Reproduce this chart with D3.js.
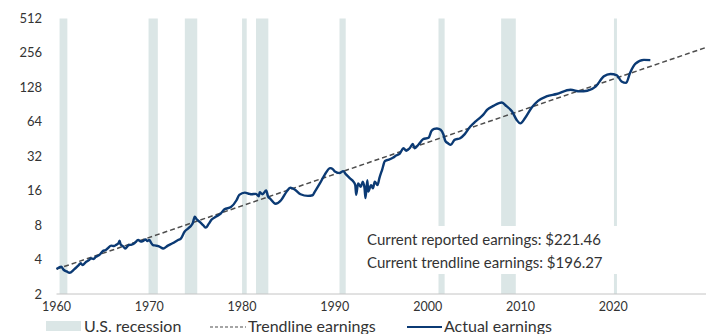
<!DOCTYPE html>
<html>
<head>
<meta charset="utf-8">
<script src="https://cdn.jsdelivr.net/npm/d3@7"></script>
<style>
  html, body { margin: 0; padding: 0; background: #ffffff; }
  svg { display: block; }
  text { font-family: Lato, "Open Sans", "Noto Sans", sans-serif; fill: #333333; }
</style>
</head>
<body>
<svg id="chart" width="710" height="334"></svg>
<script>
// S&P 500 earnings per share, log scale
const years = [
  1960.0, 1960.3, 1960.5, 1960.8, 1961.1, 1961.4, 1961.9, 1962.2, 1962.4, 1962.6,
  1962.8, 1963.2, 1963.5, 1963.7, 1964.0, 1964.2, 1964.6, 1965.0, 1965.3, 1965.5,
  1965.9, 1966.2, 1966.4, 1966.7, 1966.8, 1966.9, 1967.2, 1967.4, 1967.8, 1968.1,
  1968.4, 1968.8, 1969.1, 1969.3, 1969.6, 1969.8, 1970.0, 1970.2, 1970.4, 1970.7,
  1971.1, 1971.5, 1972.0, 1972.5, 1973.1, 1973.4, 1973.8, 1974.2, 1974.5, 1974.7,
  1974.9, 1975.1, 1975.4, 1975.8, 1976.1, 1976.4, 1976.7, 1977.2, 1977.7, 1978.1,
  1978.8, 1979.4, 1979.7, 1980.3, 1980.8, 1981.0, 1981.5, 1981.8, 1981.9, 1982.2,
  1982.6, 1982.8, 1983.0, 1983.6, 1984.2, 1984.8, 1985.2, 1985.7, 1986.3, 1987.1,
  1987.6, 1987.8, 1988.4, 1988.9, 1989.5, 1989.8, 1990.0, 1990.5, 1990.9, 1991.2,
  1991.6, 1992.0, 1992.2, 1992.3, 1992.5, 1992.8, 1993.0, 1993.2, 1993.3, 1993.5,
  1993.6, 1993.9, 1994.1, 1994.3, 1994.6, 1994.8, 1995.1, 1995.4, 1995.7, 1996.3,
  1996.6, 1997.0, 1997.4, 1997.7, 1998.1, 1998.4, 1998.6, 1999.0, 1999.5, 2000.1,
  2000.4, 2000.7, 2001.0, 2001.4, 2001.7, 2001.9, 2002.2, 2002.5, 2002.9, 2003.5,
  2004.0, 2004.6, 2005.1, 2005.6, 2006.0, 2006.4, 2007.1, 2008.0, 2008.5, 2009.1,
  2009.6, 2010.0, 2010.5, 2011.2, 2011.9, 2012.8, 2013.9, 2015.4, 2016.4, 2017.2,
  2018.1, 2019.0, 2019.7, 2020.4, 2020.9, 2021.4, 2021.8, 2022.4, 2023.3, 2024.0
];
const earnings = [
  3.31, 3.42, 3.46, 3.24, 3.15, 3.07, 3.28, 3.45, 3.58, 3.71,
  3.58, 3.83, 3.95, 4.10, 4.05, 4.20, 4.37, 4.75, 4.85, 5.00,
  5.30, 5.25, 5.36, 5.60, 5.85, 5.46, 5.20, 5.00, 5.36, 5.40,
  5.55, 5.93, 5.75, 5.80, 6.00, 5.80, 5.95, 5.60, 5.36, 5.30,
  5.20, 5.00, 5.30, 5.55, 5.93, 6.10, 7.00, 7.50, 7.90, 8.40,
  9.50, 9.00, 8.60, 8.00, 7.60, 8.20, 8.90, 9.50, 10.1, 11.0,
  11.5, 13.2, 14.7, 15.4, 15.0, 14.9, 15.0, 14.3, 15.5, 14.9,
  16.1, 14.2, 13.7, 12.3, 13.2, 15.7, 17.0, 16.3, 14.9, 14.4,
  14.6, 15.5, 18.6, 22.0, 25.2, 24.6, 23.5, 22.8, 23.7, 22.2,
  20.6, 19.2, 17.9, 14.7, 18.5, 17.3, 19.2, 16.8, 13.8, 19.8,
  15.7, 17.9, 16.8, 19.2, 17.9, 20.6, 24.5, 29.1, 29.7, 31.2,
  32.5, 33.8, 37.6, 35.8, 38.0, 41.0, 37.6, 40.3, 45.0, 46.4,
  53.0, 55.5, 56.0, 54.5, 49.6, 43.6, 41.5, 40.3, 44.5, 46.0,
  50.0, 58.2, 63.8, 69.0, 74.0, 81.4, 88.3, 94.4, 87.6, 78.7,
  66.4, 62.0, 69.0, 85.0, 97.6, 106.8, 112, 122, 118, 119.6,
  130, 160, 167.6, 163, 144, 140, 170, 206, 222.5, 221.46
];

// Log-linear trend through the full period
const trendYears = [1960, 2030];
const trendValues = [3.3, 286];

// NBER recession periods (fractional years)
const recessionStart = [1960.33, 1969.92, 1973.83, 1980.0, 1981.5, 1990.5, 2001.17, 2007.92, 2020.08];
const recessionEnd   = [1961.17, 1970.92, 1975.17, 1980.5, 1982.83, 1991.17, 2001.83, 2009.5, 2020.33];

const yTicks = [2, 4, 8, 16, 32, 64, 128, 256, 512];
const xTicks = [1960, 1970, 1980, 1990, 2000, 2010, 2020];

const reportedLabel = "Current reported earnings: $221.46";
const trendLabel = "Current trendline earnings: $196.27";
const legendLabels = ["U.S. recession", "Trendline earnings", "Actual earnings"];

const svg = d3.select("#chart");

const x = d3.scaleLinear().domain([1960, 2030]).range([56.5, 706]);
const y = d3.scaleLog().base(2).domain([2, 512]).range([294, 18.5]);

const bandColor = "#dbe6e6";
const lineColor = "#0b3a74";
const trendColor = "#4d4d4d";

// recession shading
svg.append("g").selectAll("rect")
  .data(recessionStart.map((s, i) => [s, recessionEnd[i]]))
  .join("rect")
  .attr("x", d => x(d[0]))
  .attr("width", d => Math.max(3, x(d[1]) - x(d[0])))
  .attr("y", y(512))
  .attr("height", y(2) - y(512))
  .attr("fill", bandColor);

// x axis baseline
svg.append("line")
  .attr("x1", x(1960)).attr("x2", x(2030))
  .attr("y1", y(2)).attr("y2", y(2))
  .attr("stroke", "#c4c4c4").attr("stroke-width", 1);

// y tick labels
svg.append("g").selectAll("text")
  .data(yTicks)
  .join("text")
  .attr("x", 42)
  .attr("y", d => y(d))
  .attr("dy", "0.35em")
  .attr("text-anchor", "end")
  .style("font-size", "13px")
  .text(d => d);

// x tick labels
svg.append("g").selectAll("text")
  .data(xTicks)
  .join("text")
  .attr("x", d => x(d))
  .attr("y", 306.5)
  .attr("dy", "0.35em")
  .attr("text-anchor", "middle")
  .style("font-size", "12.5px")
  .text(d => d);

// trendline
svg.append("path")
  .datum(trendYears.map((t, i) => [t, trendValues[i]]))
  .attr("fill", "none")
  .attr("stroke", trendColor)
  .attr("stroke-width", 1.5)
  .attr("stroke-dasharray", "5,3")
  .attr("d", d3.line().x(d => x(d[0])).y(d => y(d[1])));

// actual earnings
svg.append("path")
  .datum(years.map((t, i) => [t, earnings[i]]))
  .attr("fill", "none")
  .attr("stroke", lineColor)
  .attr("stroke-width", 2.4)
  .attr("stroke-linejoin", "round")
  .attr("d", d3.line().curve(d3.curveMonotoneX).x(d => x(d[0])).y(d => y(d[1])));

// annotations
const notes = svg.append("g").style("font-size", "15px");
notes.append("rect").attr("x", 360).attr("y", 226).attr("width", 262).attr("height", 48).attr("fill", "#ffffff");
notes.append("text").attr("x", 367).attr("y", 240).attr("dy", "0.35em").text(reportedLabel);
notes.append("text").attr("x", 367).attr("y", 263).attr("dy", "0.35em").text(trendLabel);

// legend
const legend = svg.append("g").style("font-size", "16px");
const ly = 326;
legend.append("rect").attr("x", 46).attr("y", ly - 5).attr("width", 35).attr("height", 10).attr("fill", bandColor);
legend.append("text").attr("x", 84).attr("y", ly).attr("dy", "0.35em").text(legendLabels[0]);
legend.append("line").attr("x1", 210).attr("x2", 246).attr("y1", ly + 1).attr("y2", ly + 1)
  .attr("stroke", trendColor).attr("stroke-width", 1.2).attr("stroke-dasharray", "3,2");
legend.append("text").attr("x", 248).attr("y", ly).attr("dy", "0.35em").text(legendLabels[1]);
legend.append("line").attr("x1", 407).attr("x2", 442).attr("y1", ly + 1).attr("y2", ly + 1)
  .attr("stroke", lineColor).attr("stroke-width", 2);
legend.append("text").attr("x", 444).attr("y", ly).attr("dy", "0.35em").text(legendLabels[2]);
</script>
</body>
</html>
